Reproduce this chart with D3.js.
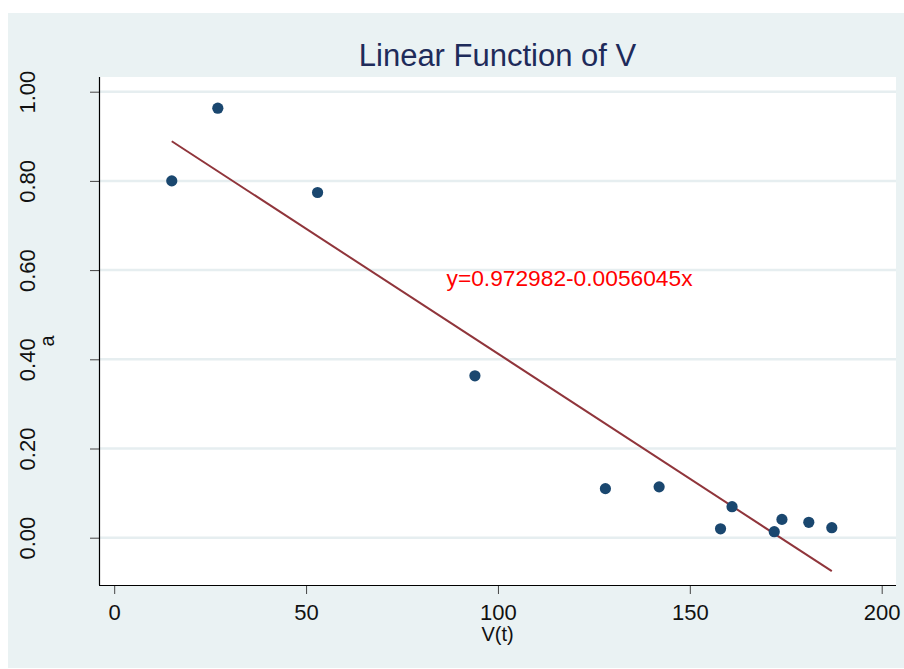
<!DOCTYPE html>
<html><head><meta charset="utf-8">
<script src="https://cdn.jsdelivr.net/npm/d3@7"></script>
<style>body{margin:0;background:#fff}svg{display:block;font-family:"Liberation Sans",Arial,sans-serif}</style>
</head><body><svg id="c" width="904" height="669"></svg>
<script>
const titleText = "Linear Function of V";
const xLabel = "V(t)";
const yLabel = "a";
const xVals = [15, 27, 53, 94, 128, 142, 158, 161, 172, 174, 181, 187];
const yVals = [0.800, 0.963, 0.774, 0.363, 0.110, 0.114, 0.020, 0.0695, 0.0135, 0.041, 0.0345, 0.0224];
const xTicks = [0, 50, 100, 150, 200];
const yTicks = [0, 0.2, 0.4, 0.6, 0.8, 1.0];
const fitIntercept = 0.972982;
const fitSlope = -0.0056045;
const eqText = "y=0.972982-0.0056045x";

const svg = d3.select("#c");
const plotL = 99, plotR = 896, plotT = 77, plotB = 585;
const x = d3.scaleLinear().domain([0, 200]).range([114.2, 881.7]);
const y = d3.scaleLinear().domain([0, 1]).range([537.7, 91.7]);

svg.append("rect").attr("x", 8).attr("y", 13).attr("width", 896).attr("height", 655).attr("fill", "#eaf2f3");
svg.append("rect").attr("x", plotL).attr("y", plotT).attr("width", plotR - plotL).attr("height", plotB - plotT).attr("fill", "#fff");

// gridlines
svg.append("g").selectAll("line").data(yTicks).join("line")
  .attr("x1", plotL).attr("x2", plotR)
  .attr("y1", d => y(d)).attr("y2", d => y(d))
  .attr("stroke", "#e6eef0").attr("stroke-width", 2.5);

// axes
const xAxis = svg.append("g").attr("transform", `translate(0,${plotB})`)
  .call(d3.axisBottom(x).tickValues(xTicks).tickSize(9).tickSizeOuter(0).tickFormat(d3.format("d")));
xAxis.select(".domain").remove();
xAxis.selectAll(".tick line").attr("stroke", "#444").attr("stroke-width", 1);
xAxis.selectAll(".tick text").attr("y", 35).attr("dy", null).attr("font-size", 22).attr("fill", "#111");

const yAxis = svg.append("g").attr("transform", `translate(${plotL},0)`)
  .call(d3.axisLeft(y).tickValues(yTicks).tickSize(9).tickSizeOuter(0).tickFormat(d3.format(".2f")));
yAxis.select(".domain").remove();
yAxis.selectAll(".tick line").attr("stroke", "#444").attr("stroke-width", 1);
yAxis.selectAll(".tick text").attr("x", 0).attr("y", -64).attr("dy", null)
  .attr("text-anchor", "middle").attr("transform", "rotate(-90)")
  .attr("font-size", 22).attr("fill", "#111");

svg.append("line").attr("x1", plotL + 0.5).attr("x2", plotL + 0.5).attr("y1", plotT).attr("y2", plotB)
  .attr("stroke", "#000").attr("stroke-width", 1.2);
svg.append("line").attr("x1", plotL).attr("x2", plotR).attr("y1", plotB + 0.5).attr("y2", plotB + 0.5)
  .attr("stroke", "#000").attr("stroke-width", 1.2);

// fitted line
const xExt = d3.extent(xVals);
svg.append("line")
  .attr("x1", x(xExt[0])).attr("y1", y(fitIntercept + fitSlope * xExt[0]))
  .attr("x2", x(xExt[1])).attr("y2", y(fitIntercept + fitSlope * xExt[1]))
  .attr("stroke", "#90353b").attr("stroke-width", 2);

// points
svg.append("g").selectAll("circle").data(xVals.map((v, i) => [v, yVals[i]])).join("circle")
  .attr("cx", d => x(d[0])).attr("cy", d => y(d[1])).attr("r", 5.6).attr("fill", "#1a476f");

// equation text
svg.append("text").attr("x", x(86.6)).attr("y", y(0.565))
  .attr("font-size", 22).attr("fill", "#ff0000")
  .attr("textLength", 246).attr("lengthAdjust", "spacingAndGlyphs").text(eqText);

// titles
svg.append("text").attr("x", (plotL + plotR) / 2).attr("y", 66).attr("text-anchor", "middle")
  .attr("font-size", 31).attr("fill", "#1e2b5a").text(titleText);
svg.append("text").attr("x", (plotL + plotR) / 2).attr("y", 641).attr("text-anchor", "middle")
  .attr("font-size", 20).attr("fill", "#111").text(xLabel);
svg.append("text").attr("transform", `translate(54,341) rotate(-90)`).attr("text-anchor", "middle")
  .attr("font-size", 20).attr("fill", "#111").text(yLabel);
</script></body></html>
